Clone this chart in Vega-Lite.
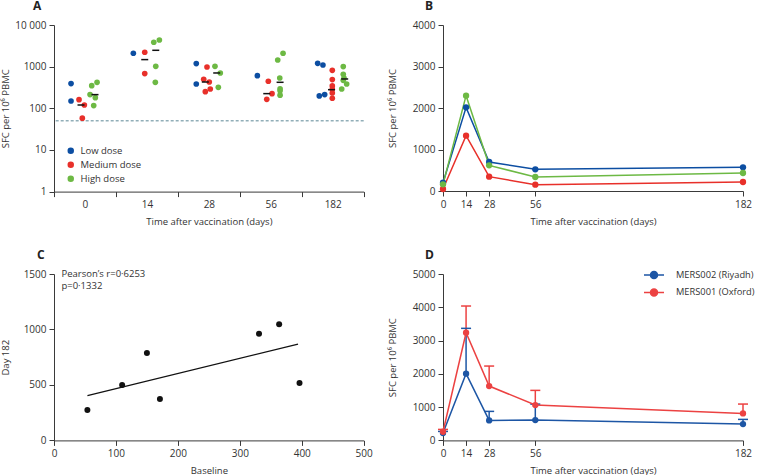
{
  "$schema": "https://vega.github.io/schema/vega-lite/v6.json",
  "padding": {"left": 0, "top": 0, "right": 0, "bottom": 0},
  "config": {
    "font": "Open Sans",
    "view": {"stroke": null},
    "axis": {"grid": false, "domainColor": "#3a3a3a", "tickColor": "#3a3a3a", "tickSize": 5, "labelFontSize": 10, "labelColor": "#333333", "titleFontSize": 9.5, "titleFontWeight": "normal", "titleColor": "#333333", "labelPadding": 3, "titlePadding": 7, "labelFlush": false, "labelOverlap": false},
    "title": {"fontSize": 12, "fontWeight": "bold", "anchor": "start", "color": "#222222", "offset": 7, "frame": "group"},
    "legend": {"labelFontSize": 10, "labelColor": "#333333", "padding": 0}
  },
  "bounds": "flush",
  "spacing": {"row": 82, "column": 79},
  "columns": 2,
  "resolve": {"scale": {"color": "independent"}, "legend": {"color": "independent"}},
  "concat": [
    {
      "width": 309.7,
      "height": 166.6,
      "title": {"text": "A", "dx": -21},
      "layer": [
        {
          "data": {"values": [{"lod": 50}]},
          "mark": {"type": "rule", "strokeDash": [3, 2], "color": "#5b8796", "strokeWidth": 1},
          "encoding": {"y": {"field": "lod", "type": "quantitative"}}
        },
        {
          "data": {"values": [
            {"day": "0", "dose": "Low dose", "pos": 0.275, "v": 392},
            {"day": "0", "dose": "Low dose", "pos": 0.275, "v": 150},
            {"day": "0", "dose": "Medium dose", "pos": 0.404, "v": 161},
            {"day": "0", "dose": "Medium dose", "pos": 0.49, "v": 120},
            {"day": "0", "dose": "Medium dose", "pos": 0.457, "v": 58},
            {"day": "0", "dose": "High dose", "pos": 0.609, "v": 350},
            {"day": "0", "dose": "High dose", "pos": 0.695, "v": 421},
            {"day": "0", "dose": "High dose", "pos": 0.582, "v": 213},
            {"day": "0", "dose": "High dose", "pos": 0.667, "v": 180},
            {"day": "0", "dose": "High dose", "pos": 0.641, "v": 116},
            {"day": "14", "dose": "Low dose", "pos": 0.281, "v": 2100},
            {"day": "14", "dose": "Medium dose", "pos": 0.465, "v": 2213},
            {"day": "14", "dose": "Medium dose", "pos": 0.465, "v": 681},
            {"day": "14", "dose": "High dose", "pos": 0.611, "v": 3846},
            {"day": "14", "dose": "High dose", "pos": 0.701, "v": 4365},
            {"day": "14", "dose": "High dose", "pos": 0.643, "v": 1019},
            {"day": "14", "dose": "High dose", "pos": 0.636, "v": 421},
            {"day": "28", "dose": "Low dose", "pos": 0.297, "v": 1183},
            {"day": "28", "dose": "Low dose", "pos": 0.297, "v": 384},
            {"day": "28", "dose": "Medium dose", "pos": 0.47, "v": 982},
            {"day": "28", "dose": "Medium dose", "pos": 0.417, "v": 497},
            {"day": "28", "dose": "Medium dose", "pos": 0.507, "v": 428},
            {"day": "28", "dose": "Medium dose", "pos": 0.523, "v": 291},
            {"day": "28", "dose": "Medium dose", "pos": 0.443, "v": 251},
            {"day": "28", "dose": "High dose", "pos": 0.599, "v": 1019},
            {"day": "28", "dose": "High dose", "pos": 0.685, "v": 705},
            {"day": "28", "dose": "High dose", "pos": 0.653, "v": 319},
            {"day": "56", "dose": "Low dose", "pos": 0.283, "v": 608},
            {"day": "56", "dose": "Medium dose", "pos": 0.46, "v": 445},
            {"day": "56", "dose": "Medium dose", "pos": 0.52, "v": 225},
            {"day": "56", "dose": "Medium dose", "pos": 0.435, "v": 164},
            {"day": "56", "dose": "High dose", "pos": 0.698, "v": 2094},
            {"day": "56", "dose": "High dose", "pos": 0.612, "v": 1445},
            {"day": "56", "dose": "High dose", "pos": 0.645, "v": 535},
            {"day": "56", "dose": "High dose", "pos": 0.65, "v": 294},
            {"day": "56", "dose": "High dose", "pos": 0.65, "v": 263},
            {"day": "56", "dose": "High dose", "pos": 0.65, "v": 207},
            {"day": "182", "dose": "Low dose", "pos": 0.257, "v": 1202},
            {"day": "182", "dose": "Low dose", "pos": 0.342, "v": 1096},
            {"day": "182", "dose": "Low dose", "pos": 0.283, "v": 198},
            {"day": "182", "dose": "Low dose", "pos": 0.37, "v": 213},
            {"day": "182", "dose": "Medium dose", "pos": 0.493, "v": 817},
            {"day": "182", "dose": "Medium dose", "pos": 0.493, "v": 489},
            {"day": "182", "dose": "Medium dose", "pos": 0.493, "v": 344},
            {"day": "182", "dose": "Medium dose", "pos": 0.493, "v": 286},
            {"day": "182", "dose": "Medium dose", "pos": 0.493, "v": 233},
            {"day": "182", "dose": "Medium dose", "pos": 0.493, "v": 174},
            {"day": "182", "dose": "High dose", "pos": 0.67, "v": 1002},
            {"day": "182", "dose": "High dose", "pos": 0.67, "v": 655},
            {"day": "182", "dose": "High dose", "pos": 0.682, "v": 535},
            {"day": "182", "dose": "High dose", "pos": 0.67, "v": 470},
            {"day": "182", "dose": "High dose", "pos": 0.725, "v": 384},
            {"day": "182", "dose": "High dose", "pos": 0.645, "v": 291}
          ]},
          "mark": {"type": "point", "filled": true, "size": 32, "opacity": 1},
          "encoding": {
            "x": {"field": "day", "type": "ordinal", "sort": ["0", "14", "28", "56", "182"], "scale": {"paddingInner": 0, "paddingOuter": 0}, "axis": {"title": "Time after vaccination (days)", "labelAngle": 0, "tickBand": "extent"}},
            "xOffset": {"field": "pos", "type": "quantitative", "scale": {"domain": [0, 1], "nice": false, "zero": false}},
            "y": {"field": "v", "type": "quantitative", "scale": {"type": "log", "domain": [1, 10000], "nice": false}, "axis": {"title": "SFC per 10⁶ PBMC", "values": [1, 10, 100, 1000, 10000], "labelExpr": "datum.value >= 10000 ? '10 000' : format(datum.value, 'd')", "titlePadding": 4}},
            "color": {"field": "dose", "type": "nominal", "scale": {"domain": ["Low dose", "Medium dose", "High dose"], "range": ["#0c4ea2", "#e8302a", "#6db944"]}, "legend": {"title": null, "orient": "none", "legendX": 12, "legendY": 121, "symbolSize": 42, "symbolType": "circle", "rowPadding": 3, "labelOffset": 5, "labelFontSize": 9.5}}
          }
        },
        {
          "data": {"values": [
            {"day": "0", "pos": 0.436, "v": 120},
            {"day": "0", "pos": 0.662, "v": 213},
            {"day": "14", "pos": 0.465, "v": 1476},
            {"day": "14", "pos": 0.643, "v": 2470},
            {"day": "28", "pos": 0.443, "v": 428},
            {"day": "28", "pos": 0.627, "v": 705},
            {"day": "56", "pos": 0.435, "v": 225},
            {"day": "56", "pos": 0.65, "v": 421},
            {"day": "182", "pos": 0.48, "v": 280},
            {"day": "182", "pos": 0.693, "v": 506}
          ]},
          "mark": {"type": "point", "shape": "stroke", "size": 49, "strokeWidth": 1.5, "color": "#111111", "opacity": 1},
          "encoding": {
            "x": {"field": "day", "type": "ordinal", "sort": ["0", "14", "28", "56", "182"]},
            "xOffset": {"field": "pos", "type": "quantitative", "scale": {"domain": [0, 1], "nice": false, "zero": false}},
            "y": {"field": "v", "type": "quantitative"}
          }
        }
      ]
    },
    {
      "width": 300,
      "height": 166,
      "title": {"text": "B", "dx": -18},
      "data": {"values": [
        {"day": 0, "dose": "Low dose", "v": 201},
        {"day": 14, "dose": "Low dose", "v": 2016},
        {"day": 28, "dose": "Low dose", "v": 699},
        {"day": 56, "dose": "Low dose", "v": 522},
        {"day": 182, "dose": "Low dose", "v": 570},
        {"day": 0, "dose": "Medium dose", "v": 48},
        {"day": 14, "dose": "Medium dose", "v": 1333},
        {"day": 28, "dose": "Medium dose", "v": 345},
        {"day": 56, "dose": "Medium dose", "v": 153},
        {"day": 182, "dose": "Medium dose", "v": 217},
        {"day": 0, "dose": "High dose", "v": 160},
        {"day": 14, "dose": "High dose", "v": 2297},
        {"day": 28, "dose": "High dose", "v": 618},
        {"day": 56, "dose": "High dose", "v": 337},
        {"day": 182, "dose": "High dose", "v": 434}
      ]},
      "encoding": {
        "x": {"field": "day", "type": "quantitative", "scale": {"domain": [0, 182], "nice": false}, "axis": {"title": "Time after vaccination (days)", "values": [0, 14, 28, 56, 182], "format": "d"}},
        "y": {"field": "v", "type": "quantitative", "scale": {"domain": [0, 4000], "nice": false}, "axis": {"title": "SFC per 10⁶ PBMC", "values": [0, 1000, 2000, 3000, 4000], "format": "d", "titlePadding": 15}},
        "color": {"field": "dose", "type": "nominal", "scale": {"domain": ["Low dose", "Medium dose", "High dose"], "range": ["#0c4ea2", "#e8302a", "#6db944"]}, "legend": null}
      },
      "layer": [
        {"mark": {"type": "line", "strokeWidth": 1.5}},
        {"mark": {"type": "point", "filled": true, "size": 40, "opacity": 1}}
      ]
    },
    {
      "width": 309.7,
      "height": 166.4,
      "title": {"text": "C", "dx": -17},
      "layer": [
        {
          "data": {"values": [
            {"baseline": 53.9, "day182": 273.5},
            {"baseline": 110, "day182": 499},
            {"baseline": 150, "day182": 787.6},
            {"baseline": 171, "day182": 372.7},
            {"baseline": 331, "day182": 962},
            {"baseline": 363.5, "day182": 1046},
            {"baseline": 396.4, "day182": 517}
          ]},
          "mark": {"type": "point", "filled": true, "size": 36, "color": "#111111", "opacity": 1},
          "encoding": {
            "x": {"field": "baseline", "type": "quantitative", "scale": {"domain": [0, 500], "nice": false}, "axis": {"title": "Baseline", "values": [0, 100, 200, 300, 400, 500], "format": "d"}},
            "y": {"field": "day182", "type": "quantitative", "scale": {"domain": [0, 1500], "nice": false}, "axis": {"title": "Day 182", "values": [0, 500, 1000, 1500], "format": "d", "titlePadding": 13}}
          }
        },
        {
          "data": {"values": [
            {"baseline": 54, "fit": 403},
            {"baseline": 394, "fit": 868}
          ]},
          "mark": {"type": "line", "color": "#111111", "strokeWidth": 1.2},
          "encoding": {
            "x": {"field": "baseline", "type": "quantitative"},
            "y": {"field": "fit", "type": "quantitative"}
          }
        },
        {
          "data": {"values": [
            {"tx": 12, "ty": 1500, "label": "Pearson’s r=0·6253"},
            {"tx": 12, "ty": 1392, "label": "p=0·1332"}
          ]},
          "mark": {"type": "text", "align": "left", "baseline": "middle", "fontSize": 9.5, "color": "#333333"},
          "encoding": {
            "x": {"field": "tx", "type": "quantitative"},
            "y": {"field": "ty", "type": "quantitative"},
            "text": {"field": "label"}
          }
        }
      ]
    },
    {
      "width": 300,
      "height": 166.4,
      "title": {"text": "D", "dx": -18},
      "data": {"values": [
        {"day": 0, "site": "MERS002 (Riyadh)", "v": 220, "hi": 270},
        {"day": 14, "site": "MERS002 (Riyadh)", "v": 2004, "hi": 3367},
        {"day": 28, "site": "MERS002 (Riyadh)", "v": 601, "hi": 872},
        {"day": 56, "site": "MERS002 (Riyadh)", "v": 611, "hi": 1090},
        {"day": 182, "site": "MERS002 (Riyadh)", "v": 491, "hi": 631},
        {"day": 0, "site": "MERS001 (Oxford)", "v": 260, "hi": 330},
        {"day": 14, "site": "MERS001 (Oxford)", "v": 3236, "hi": 4038},
        {"day": 28, "site": "MERS001 (Oxford)", "v": 1633, "hi": 2234},
        {"day": 56, "site": "MERS001 (Oxford)", "v": 1062, "hi": 1503},
        {"day": 182, "site": "MERS001 (Oxford)", "v": 812, "hi": 1092}
      ]},
      "encoding": {
        "x": {"field": "day", "type": "quantitative", "scale": {"domain": [0, 182], "nice": false}, "axis": {"title": "Time after vaccination (days)", "values": [0, 14, 28, 56, 182], "format": "d"}},
        "y": {"field": "v", "type": "quantitative", "scale": {"domain": [0, 5000], "nice": false}, "axis": {"title": "SFC per 10⁶ PBMC", "values": [0, 1000, 2000, 3000, 4000, 5000], "format": "d", "titlePadding": 15}},
        "color": {"field": "site", "type": "nominal", "scale": {"domain": ["MERS002 (Riyadh)", "MERS001 (Oxford)"], "range": ["#1d56a5", "#ec4242"]}, "legend": {"title": null, "orient": "none", "legendX": 205, "legendY": -5, "symbolSize": 100, "symbolType": "M-2,0H2M-0.7,0A0.7,0.7,0,1,1,0.7,0A0.7,0.7,0,1,1,-0.7,0Z", "symbolStrokeWidth": 1.5, "labelOffset": 16, "rowPadding": 3.4, "labelFontSize": 9.3, "encode": {"symbols": {"update": {"fill": {"signal": "datum.value === 'MERS002 (Riyadh)' ? '#1d56a5' : '#ec4242'"}, "stroke": {"signal": "datum.value === 'MERS002 (Riyadh)' ? '#1d56a5' : '#ec4242'"}, "strokeWidth": {"value": 1.5}}}}}}
      },
      "layer": [
        {
          "mark": {"type": "rule", "strokeWidth": 1.5},
          "encoding": {"y2": {"field": "hi"}}
        },
        {
          "mark": {"type": "point", "shape": "stroke", "size": 100, "strokeWidth": 1.5, "opacity": 1},
          "encoding": {"y": {"field": "hi", "type": "quantitative", "scale": {"domain": [0, 5000], "nice": false}, "axis": {"title": "SFC per 10⁶ PBMC", "values": [0, 1000, 2000, 3000, 4000, 5000], "format": "d", "titlePadding": 15}}}
        },
        {"mark": {"type": "line", "strokeWidth": 1.5}},
        {"mark": {"type": "point", "filled": true, "size": 40, "opacity": 1}}
      ]
    }
  ]
}
